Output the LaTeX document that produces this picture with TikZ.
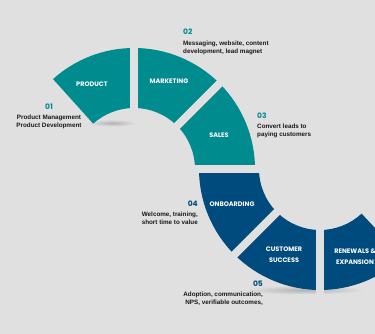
\documentclass[tikz,border=0pt]{standalone}
\usepackage{fontspec}
\setmainfont{Liberation Sans}
\newfontfamily\headfont{Poppins}
\usetikzlibrary{calc}
\definecolor{tealseg}{RGB}{0,139,143}
\definecolor{navyseg}{RGB}{0,75,125}
\definecolor{pagebg}{RGB}{224,224,224}
\definecolor{bodytext}{RGB}{25,25,25}
\tikzset{
  seglabel/.style={
    text=white, inner sep=0pt, align=center,
    font=\headfont\bfseries\fontsize{6.5}{11}\selectfont
  },
  stepnum/.style={
    text=#1, inner sep=0pt,
    font=\headfont\bfseries\fontsize{7.5}{8}\selectfont
  },
  stepnote/.style={
    text=bodytext, inner sep=0pt,
    font=\bfseries\fontsize{6.3}{8}\selectfont
  },
  gapline/.style={draw=pagebg, line width=8pt},
  floorshadow/.style={inner color=black!30, outer color=pagebg},
}
% ring sector: centre, start angle, end angle, colour
\newcommand{\ringsector}[4]{%
  \fill[#4] ($(#1)+(#2:121)$) arc[start angle=#2, end angle=#3, radius=121]
    -- ($(#1)+(#3:61)$) arc[start angle=#3, end angle=#2, radius=61] -- cycle;}

\begin{document}
\begin{tikzpicture}[x=1pt, y=-1pt]
  \fill[pagebg] (0,0) rectangle (375,334);
  \useasboundingbox (0,0) rectangle (375,334);
  \clip (0,0) rectangle (375,334);

  \coordinate (top) at (134,169);
  \coordinate (bot) at (320,169);

  % shadows under the ring
  \shade[floorshadow] (112,123) ellipse (24 and 3.5);
  \shade[floorshadow] (305,290) ellipse (60 and 4.5);

  % upper half ring
  \ringsector{top}{228}{270}{tealseg}
  \ringsector{top}{270}{315}{tealseg}
  \ringsector{top}{315}{360}{tealseg}
  % lower half ring
  \ringsector{bot}{180}{135}{navyseg}
  \ringsector{bot}{135}{90}{navyseg}
  \ringsector{bot}{90}{47}{navyseg}

  % gaps between segments
  \draw[gapline] ($(top)+(270:55)$) -- ($(top)+(270:127)$);
  \draw[gapline] ($(top)+(315:55)$) -- ($(top)+(315:127)$);
  \draw[gapline] ($(top)+(0:55)$) -- ($(bot)+(180:55)$);
  \draw[gapline] ($(bot)+(135:55)$) -- ($(bot)+(135:127)$);
  \draw[gapline] ($(bot)+(90:55)$) -- ($(bot)+(90:127)$);

  % segment labels
  \node[seglabel] (product) at (92,84) {PRODUCT};
  \node[seglabel] (marketing) at (169,81) {MARKETING};
  \node[seglabel] (sales) at (219,135) {SALES};
  \node[seglabel] (onboarding) at (232,204) {ONBOARDING};
  \node[seglabel] (success) at (284,254.5) {CUSTOMER\\SUCCESS};
  \node[seglabel] (renewals) at (355,256.5) {RENEWALS \&\\EXPANSION};

  % step numbers and notes
  \node[stepnum=tealseg] (num01) at (49,107) {01};
  \node[stepnote, align=center, anchor=north] (note01) at (49,115)
    {Product Management\\Product Development};
  \node[stepnum=tealseg, anchor=west] (num02) at (183,32) {02};
  \node[stepnote, align=left, anchor=north west] (note02) at (183,41)
    {Messaging, website, content\\development, lead magnet};
  \node[stepnum=tealseg, anchor=west] (num03) at (257,116) {03};
  \node[stepnote, align=left, anchor=north west] (note03) at (257,124)
    {Convert leads to\\paying customers};
  \node[stepnum=navyseg, anchor=east] (num04) at (198,204) {04};
  \node[stepnote, align=right, anchor=north east] (note04) at (198,212)
    {Welcome, training,\\short time to value};
  \node[stepnum=navyseg, anchor=east] (num05) at (263,284) {05};
  \node[stepnote, align=right, anchor=north east] (note05) at (263,292)
    {Adoption, communication,\\NPS, verifiable outcomes,};
\end{tikzpicture}
\end{document}
